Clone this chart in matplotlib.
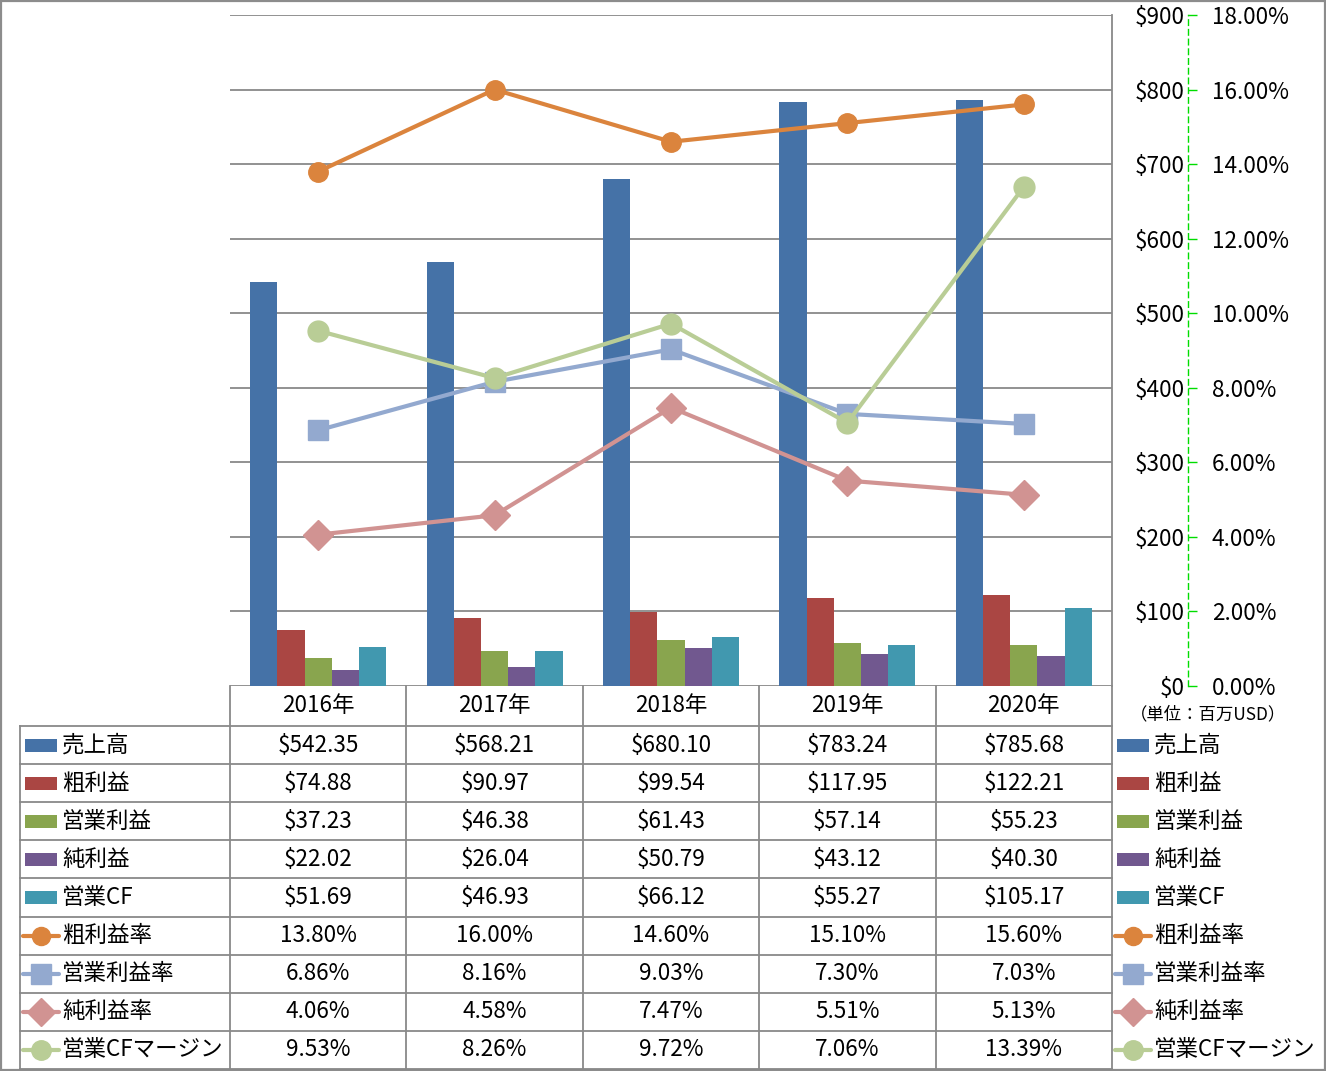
"""
Financial summary chart: bars (USD, millions) + margin lines (%) with data table
"""

import matplotlib
matplotlib.use('Agg')
import matplotlib.pyplot as plt
from matplotlib.lines import Line2D
from matplotlib.patches import Rectangle
import numpy as np

plt.rcParams['font.family'] = ['Noto Sans CJK JP', 'DejaVu Sans']

# ---- data ----
years = ['2016年', '2017年', '2018年', '2019年', '2020年']

bar_names = ['売上高', '粗利益', '営業利益', '純利益', '営業CF']
sales = [542.35, 568.21, 680.10, 783.24, 785.68]
gross_profit = [74.88, 90.97, 99.54, 117.95, 122.21]
op_profit = [37.23, 46.38, 61.43, 57.14, 55.23]
net_profit = [22.02, 26.04, 50.79, 43.12, 40.30]
op_cf = [51.69, 46.93, 66.12, 55.27, 105.17]

line_names = ['粗利益率', '営業利益率', '純利益率', '営業CFマージン']
gross_margin = [13.80, 16.00, 14.60, 15.10, 15.60]
op_margin = [6.86, 8.16, 9.03, 7.30, 7.03]
net_margin = [4.06, 4.58, 7.47, 5.51, 5.13]
cf_margin = [9.53, 8.26, 9.72, 7.06, 13.39]

usd_ticks = [0, 100, 200, 300, 400, 500, 600, 700, 800, 900]
pct_ticks = [0, 2, 4, 6, 8, 10, 12, 14, 16, 18]

bar_series = [sales, gross_profit, op_profit, net_profit, op_cf]
bar_colors = ['#4572A7', '#AA4643', '#89A54E', '#71588F', '#4198AF']

line_series = [gross_margin, op_margin, net_margin, cf_margin]
line_colors = ['#DB843D', '#93A9CF', '#D19392', '#B9CD96']
line_markers = ['o', 's', 'D', 'o']
line_msizes = [14, 15, 15, 15]

W, H = 1326, 1071
GRID = '#898989'
FS = 16.2
PT = 0.72  # points per pixel at dpi 100


def fx(px):
    return px / W


def fy(py):
    return 1 - py / H


fig = plt.figure(figsize=(W / 100, H / 100), dpi=100)

# ---- plot area ----
left, top, right, bottom = 230, 15, 1112, 686
ax = fig.add_axes([fx(left), fy(bottom), fx(right - left), (bottom - top) / H])
x = np.arange(len(years))
bw = 0.154
for i, (vals, col) in enumerate(zip(bar_series, bar_colors)):
    ax.bar(x + (i - 2) * bw, vals, width=bw, color=col, zorder=2)

ax.set_xlim(-0.5, len(years) - 0.5)
ax.set_ylim(0, 900)
ax.set_xticks([])
ax.grid(axis='y', color=GRID, linewidth=1.3)
ax.set_axisbelow(True)

ax2 = ax.twinx()
ax2.set_ylim(0, 18)
for vals, col, mk, ms in zip(line_series, line_colors, line_markers, line_msizes):
    ax2.plot(x, vals, color=col, linewidth=3, marker=mk, markersize=ms,
             markerfacecolor=col, markeredgecolor=col, zorder=3)
ax2.set_yticks(pct_ticks)
ax2.set_yticklabels([f'{v:.2f}%' for v in pct_ticks])
ax2.spines['right'].set_position(('outward', 76 * PT))
ax2.spines['right'].set_color('#00DD00')
ax2.spines['right'].set_linestyle((0, (4, 3)))
ax2.spines['right'].set_linewidth(1)
for s in ['left', 'top', 'bottom']:
    ax2.spines[s].set_visible(False)
ax2.tick_params(axis='y', length=9 * PT, width=1, color='#00DD00', labelsize=FS, pad=15 * PT)

# $ axis labels sit on the right, right-aligned next to the dashed axis
ax.yaxis.tick_right()
ax.set_yticks(usd_ticks)
ax.set_yticklabels([f'${v}' for v in usd_ticks])
ax.tick_params(axis='y', left=False, labelleft=False, right=False, labelright=True,
               length=0, labelsize=FS, pad=73 * PT)
for lbl in ax.get_yticklabels():
    lbl.set_horizontalalignment('right')
for s in ['left', 'top', 'bottom']:
    ax.spines[s].set_visible(False)
ax.spines['right'].set_color(GRID)
ax.spines['right'].set_linewidth(1.3)

fig.text(fx(1130), fy(714), '（単位：百万USD）', fontsize=12.5, va='center', ha='left')

# ---- data table ----
row_tops = [686, 726] + [726 + 38.1 * (k + 1) for k in range(9)]
col_edges = [230 + 176.4 * k for k in range(6)]
tbl_left = 20


def hline(y, x0, x1):
    fig.add_artist(Line2D([fx(x0), fx(x1)], [fy(y), fy(y)], color=GRID, linewidth=1.3))


def vline(xp, y0, y1):
    fig.add_artist(Line2D([fx(xp), fx(xp)], [fy(y0), fy(y1)], color=GRID, linewidth=1.3))


for y in row_tops[1:]:
    hline(y, tbl_left, right)
for xe in col_edges:
    vline(xe, 686, row_tops[-1])
vline(tbl_left, 726, row_tops[-1])

# header
for j, yr in enumerate(years):
    cx = (col_edges[j] + col_edges[j + 1]) / 2
    fig.text(fx(cx), fy(706), yr, fontsize=FS, ha='center', va='center')

all_names = bar_names + line_names
all_values = bar_series + line_series
for r, (name, vals) in enumerate(zip(all_names, all_values)):
    cy = (row_tops[r + 1] + row_tops[r + 2]) / 2
    is_bar = r < len(bar_names)
    for j, v in enumerate(vals):
        cx = (col_edges[j] + col_edges[j + 1]) / 2
        txt = f'${v:.2f}' if is_bar else f'{v:.2f}%'
        fig.text(fx(cx), fy(cy), txt, fontsize=FS, ha='center', va='center')
    # legend keys: inside table and to the right
    for kx in [25, 1117]:
        if is_bar:
            col = bar_colors[r]
            fig.add_artist(Rectangle((fx(kx), fy(cy + 6.5)), fx(32), 13 / H,
                                     facecolor=col, edgecolor='none'))
        else:
            li = r - len(bar_names)
            col = line_colors[li]
            fig.add_artist(Line2D([fx(kx - 2), fx(kx + 34)], [fy(cy), fy(cy)],
                                  color=col, linewidth=3, solid_capstyle='round'))
            fig.add_artist(Line2D([fx(kx + 16)], [fy(cy)], color=col,
                                  marker=line_markers[li], markersize=line_msizes[li] - 1,
                                  markeredgecolor=col))
        fig.text(fx(kx + 37), fy(cy), name, fontsize=FS, ha='left', va='center')

# outer border
fig.add_artist(Rectangle((0.0008, 0.001), 0.9984, 0.998, fill=False,
                         edgecolor='#8c8c8c', linewidth=1.6))

fig.savefig('out.png', dpi=100)
